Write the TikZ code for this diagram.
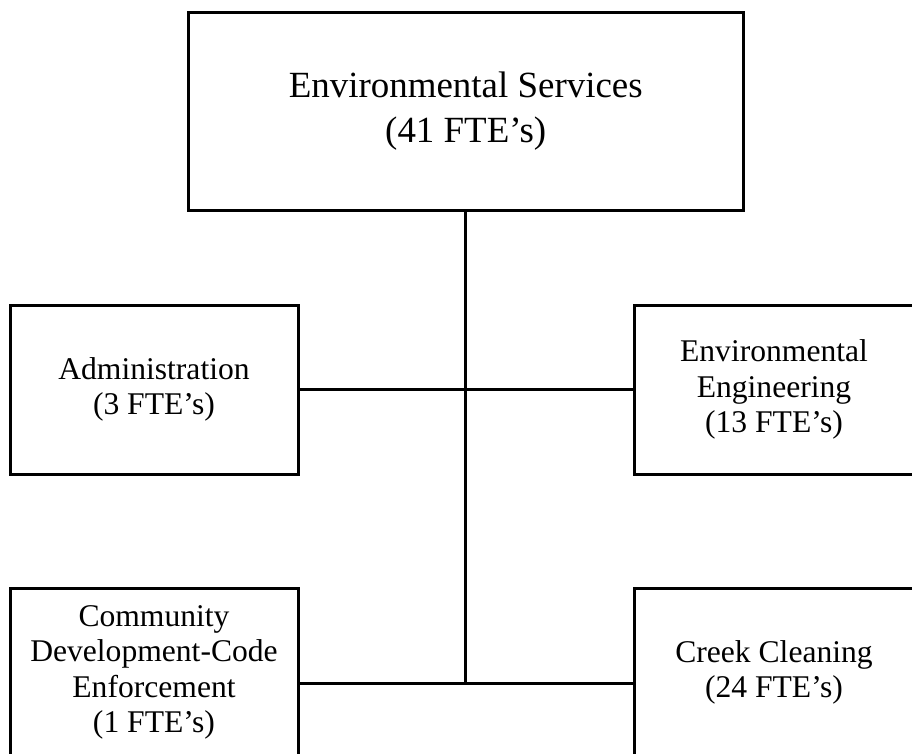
\documentclass[tikz,border=0pt]{standalone}
\usepackage{fontspec}
\setmainfont{Liberation Serif}
\usetikzlibrary{positioning}

\begin{document}
\begin{tikzpicture}[
    x=0.75pt, y=-0.75pt,
    unit/.style={draw, line width=2.25pt, fill=white, align=center,
                 minimum height=126.75pt, inner sep=0pt,
                 font=\fontsize{23.7}{26.6}\selectfont},
    head/.style={unit, minimum width=415.9pt, minimum height=148.5pt,
                 font=\fontsize{27.7}{33.75}\selectfont},
    link/.style={line width=2.25pt},
  ]
    \clip (0,0) rectangle (912,753);
    % boxes
    \node[head] (es) at (465.75,111) {Environmental Services\\(41 FTE's)};
    \node[unit, minimum width=216pt] (adm) at (154,389.5) {Administration\\(3 FTE's)};
    \node[unit, minimum width=210pt] (eng) at (774,389.5) {Environmental\\Engineering\\(13 FTE's)};
    \node[unit, minimum width=216pt] (code) at (154,672.5) {Community\\Development-Code\\Enforcement\\(1 FTE's)};
    \node[unit, minimum width=210pt] (creek) at (774,672.5) {Creek Cleaning\\(24 FTE's)};
    % connectors
    \coordinate (jb) at (es.south |- 0,683);
    \draw[link] (es.south) -- (jb);
    \draw[link] (adm.east) -- (eng.west);
    \draw[link] (code.east |- jb) -- (creek.west |- jb);
  \end{tikzpicture}
\end{document}
